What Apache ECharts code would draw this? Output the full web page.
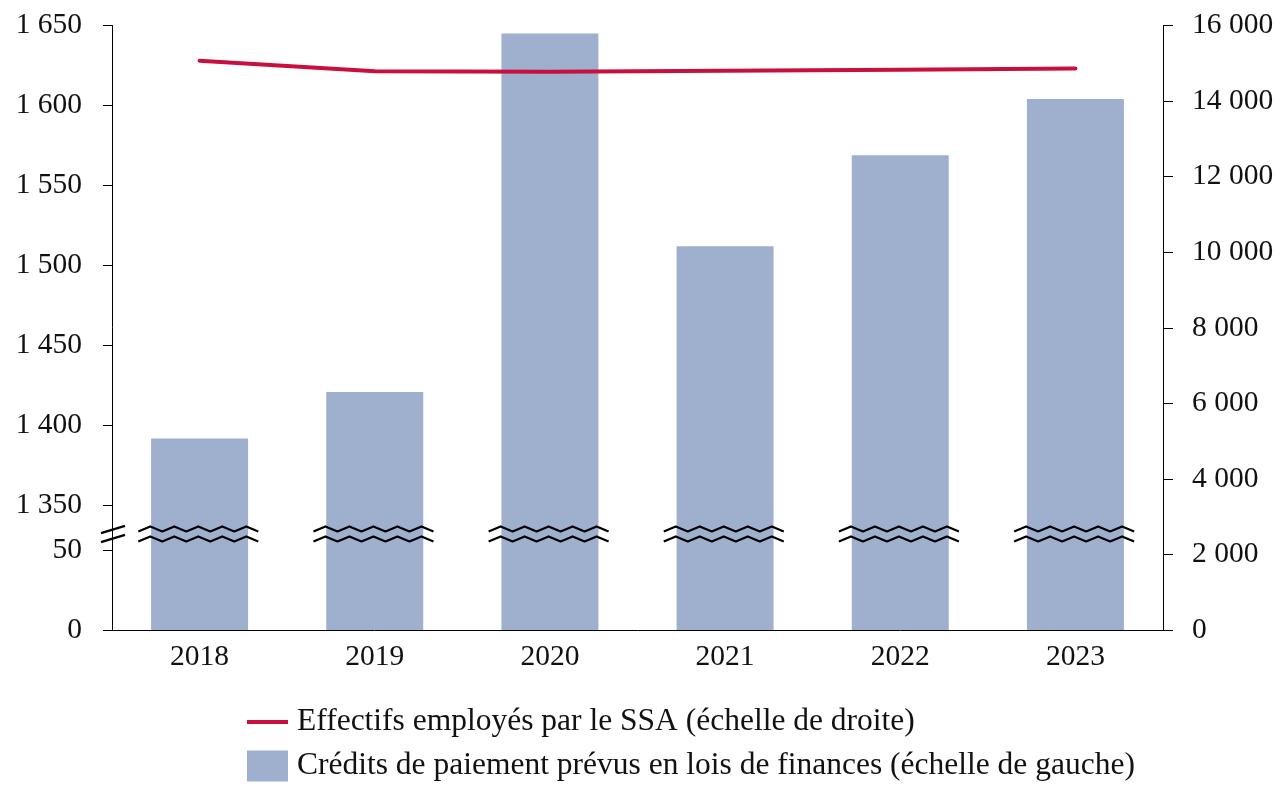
<!DOCTYPE html>
<html><head><meta charset="utf-8">
<script src="https://cdn.jsdelivr.net/npm/echarts@6/dist/echarts.min.js"></script>
<style>html,body{margin:0;padding:0;background:#fff}#c{width:1288px;height:802px}</style>
</head><body><div id="c"></div>
<script>
// ---- data ----
const years = ['2018', '2019', '2020', '2021', '2022', '2023'];
// Crédits de paiement (left scale, broken axis)
const credits = [1392, 1421, 1645, 1512, 1569, 1604];
// Effectifs employés (right scale)
const effectifs = [15070, 14790, 14775, 14800, 14830, 14860];
const leftTickValues = [0, 50, 1350, 1400, 1450, 1500, 1550, 1600, 1650];
const rightMax = 16000;
const rightStep = 2000;
const lineName = 'Effectifs employés par le SSA (échelle de droite)';
const barName = 'Crédits de paiement prévus en lois de finances (échelle de gauche)';

// ---- broken left axis mapping ----
const BREAK_LOW = 50, BREAK_HIGH = 1350, BREAK_GAP = 27.7;
const toDisp = v => v <= BREAK_LOW ? v : BREAK_LOW + BREAK_GAP + (v - BREAK_HIGH);
const fromDisp = d => d <= BREAK_LOW + 1e-6 ? d : d - BREAK_LOW - BREAK_GAP + BREAK_HIGH;
const BREAK_MARK = BREAK_LOW + 10;

const FONT = 'Liberation Serif';
const fmt = v => {
  const s = String(Math.round(v));
  return s.replace(/\B(?=(\d{3})+(?!\d))/g, ' ');
};

const chart = echarts.init(document.getElementById('c'), null, {renderer: 'canvas'});
const leftDisp = leftTickValues.map(toDisp);

chart.setOption({
  animation: false,
  backgroundColor: '#fff',
  grid: {left: 112, right: 125, top: 25.5, bottom: 172, containLabel: false},
  legend: {
    orient: 'vertical', left: 247, top: 706, padding: 0,
    itemWidth: 41, itemHeight: 31, itemGap: 12,
    selectedMode: false,
    data: [
      {name: lineName, icon: 'path://M0,0H41V4H0Z'},
      {name: barName, icon: 'rect'}
    ],
    itemStyle: {borderWidth: 0},
    textStyle: {fontFamily: FONT, fontSize: 31.5, color: '#111', padding: [0, 0, 0, 4]}
  },
  xAxis: {
    type: 'category', data: years,
    axisLine: {show: true, lineStyle: {color: '#000', width: 1}},
    axisTick: {show: false},
    axisLabel: {fontFamily: FONT, fontSize: 29.5, color: '#111', margin: 12},
    splitLine: {show: false}
  },
  yAxis: [{
    type: 'value', min: 0, max: toDisp(1650), position: 'left',
    axisLine: {show: true, onZero: false, lineStyle: {color: '#000', width: 1}},
    axisTick: {show: true, length: 9, customValues: leftDisp, lineStyle: {color: '#000', width: 1}},
    axisLabel: {fontFamily: FONT, fontSize: 29.5, color: '#111', margin: 30,
      customValues: leftDisp, formatter: v => fmt(fromDisp(v))},
    splitLine: {show: false}
  }, {
    type: 'value', min: 0, max: rightMax, interval: rightStep, position: 'right',
    axisLine: {show: true, onZero: false, lineStyle: {color: '#000', width: 1}},
    axisTick: {show: true, length: 10, lineStyle: {color: '#000', width: 1}},
    axisLabel: {fontFamily: FONT, fontSize: 29.5, color: '#111', margin: 29, formatter: v => fmt(v)},
    splitLine: {show: false}
  }],
  series: [{
    name: barName, type: 'bar', yAxisIndex: 0, barWidth: 97, z: 2,
    itemStyle: {color: '#9EB0CE'},
    data: credits.map(toDisp)
  }, {
    name: 'breakMarks', type: 'custom', yAxisIndex: 0, clip: false, silent: true, z: 4,
    data: years.map((y, i) => [i, BREAK_MARK]),
    renderItem(params, api) {
      const c = api.coord([api.value(0), api.value(1)]);
      const band = api.size([1, 0])[0];
      const hw = band * 0.35;
      const P = 24, A = 2.5;
      const mk = off => {
        const pts = [];
        let k = 0;
        for (let x = c[0] - hw; x <= c[0] + hw + 0.1; x += P / 2, k++) {
          pts.push([x, c[1] + off + (k % 2 === 0 ? A : -A)]);
        }
        return {type: 'polyline', shape: {points: pts},
          style: {stroke: '#000', lineWidth: 2.2, fill: null, lineJoin: 'round'}};
      };
      return {type: 'group', children: [mk(-5), mk(5)]};
    }
  }, {
    name: 'axisBreak', type: 'custom', yAxisIndex: 0, clip: false, silent: true, z: 4,
    data: [[0, BREAK_MARK]],
    renderItem(params, api) {
      const x0 = params.coordSys.x;
      const y = api.coord([0, api.value(1)])[1];
      const ln = off => ({type: 'line',
        shape: {x1: x0 - 11, y1: y + off + 3.6, x2: x0 + 13, y2: y + off - 3.6},
        style: {stroke: '#000', lineWidth: 2.2}});
      return {type: 'group', children: [ln(-4.5), ln(4.5)]};
    }
  }, {
    name: lineName, type: 'line', yAxisIndex: 1, z: 5,
    showSymbol: false, symbol: 'none', smooth: false,
    lineStyle: {color: '#C8103E', width: 4, cap: 'round'},
    itemStyle: {color: '#C8103E'},
    data: effectifs
  }]
});
</script>
</body></html>
